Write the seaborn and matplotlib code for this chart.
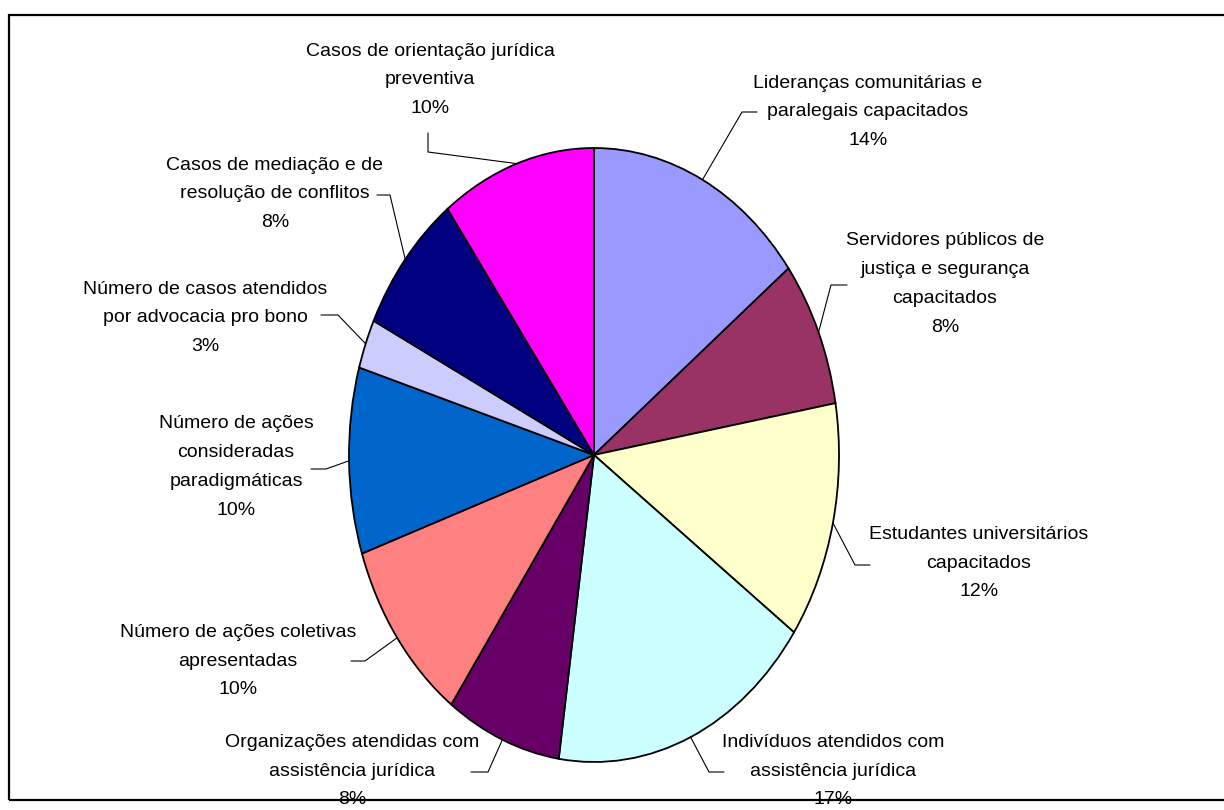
import matplotlib
matplotlib.use("Agg")
import matplotlib.pyplot as plt
import seaborn as sns
import numpy as np
from matplotlib.patches import Rectangle

categories = [
    "Lideranças comunitárias e\nparalegais capacitados",
    "Servidores públicos de\njustiça e segurança\ncapacitados",
    "Estudantes universitários\ncapacitados",
    "Indivíduos atendidos com\nassistência jurídica",
    "Organizações atendidas com\nassistência jurídica",
    "Número de ações coletivas\napresentadas",
    "Número de ações\nconsideradas\nparadigmáticas",
    "Número de casos atendidos\npor advocacia pro bono",
    "Casos de mediação e de\nresolução de conflitos",
    "Casos de orientação jurídica\npreventiva",
]
values = [14.6, 7.7, 12.5, 17.5, 7.6, 9.9, 9.8, 2.6, 7.6, 10.2]
pct_labels = ["14%", "8%", "12%", "17%", "8%", "10%", "10%", "3%", "8%", "10%"]
colors = ["#9999FF", "#993366", "#FFFFCC", "#CCFFFF", "#660066",
          "#FF8080", "#0066CC", "#CCCCFF", "#000080", "#FF00FF"]

sns.set_style("white")
plt.rcParams["font.family"] = ["Liberation Sans Narrow", "Liberation Sans", "DejaVu Sans"]

W, H = 1224, 810
fig = plt.figure(figsize=(W / 100, H / 100), dpi=100)
ax = fig.add_axes([0, 0, 1, 1])

# pie geometry in pixels
CX, CY, RX, RY = 594, 455, 245, 307

def px(x, y):
    return ((x - CX) / RX, (CY - y) / RY)

wedges, _ = ax.pie(values, colors=colors, startangle=90, counterclock=False,
                   wedgeprops=dict(edgecolor="black", linewidth=1.3))
ax.set_aspect("auto")
ax.set_xlim((0 - CX) / RX, (W - CX) / RX)
ax.set_ylim((CY - H) / RY, (CY - 0) / RY)
ax.axis("off")

# label layout (pixel positions): text center, leader kink, leader end
label_pos = [(868, 112), (945, 284), (979, 563), (833, 771), (352, 771),
             (238, 661), (236, 467), (205, 318), (275, 194), (430, 80)]
kinks = [(742, 112), (831, 285), (855, 565), (709, 772), (488, 772),
         (365, 661), (326, 469), (338, 315), (390, 195), (428, 152)]
ends = [(757, 112), (847, 285), (870, 565), (724, 772), (471, 772),
        (351, 661), (311, 469), (321, 315), (377, 195), (428, 133)]

for w, cat, pct, lp, k, e in zip(wedges, categories, pct_labels, label_pos, kinks, ends):
    mid = np.deg2rad((w.theta1 + w.theta2) / 2)
    sx, sy = np.cos(mid), np.sin(mid)
    kx, ky = px(*k)
    ex, ey = px(*e)
    ax.plot([sx, kx, ex], [sy, ky, ey], color="black", lw=0.8, zorder=3)
    tx, ty = px(*lp)
    ax.text(tx, ty, cat + "\n" + pct, ha="center", va="center",
            fontsize=14, linespacing=1.9, color="black", zorder=4)

ax.add_patch(Rectangle((9 / W, 1 - 800 / H), (W + 10 - 9) / W, (800 - 15) / H,
                       transform=fig.transFigure, fill=False, lw=1.6,
                       edgecolor="black", clip_on=False, zorder=10))

fig.savefig("out.png", dpi=100)
